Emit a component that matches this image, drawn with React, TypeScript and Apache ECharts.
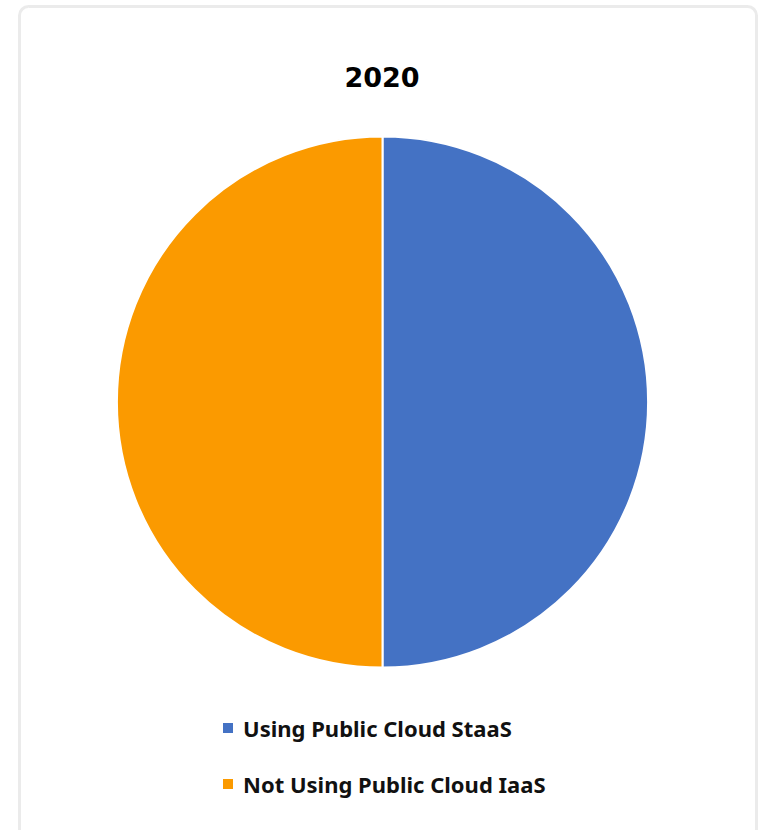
import React, { useEffect, useRef } from "react";
import * as echarts from "echarts";

const titleText = "2020";
const categories = ["Using Public Cloud StaaS", "Not Using Public Cloud IaaS"];
const values = [50, 50];
const colors = ["#4472C4", "#FB9A00"];

export default function App() {
  const ref = useRef<HTMLDivElement>(null);
  useEffect(() => {
    if (!ref.current) return;
    const chart = echarts.init(ref.current, null, { renderer: "svg" });
    chart.setOption({
      animation: false,
      backgroundColor: "#ffffff",
      title: {
        text: titleText,
        left: 377,
        textAlign: "center",
        top: 59,
        textStyle: {
          fontFamily: "DejaVu Sans",
          fontWeight: "bold",
          fontSize: 27,
          color: "#000000",
        },
      },
      graphic: [
        {
          type: "rect",
          shape: { x: 19.5, y: 6.5, width: 737, height: 900, r: 9 },
          style: { fill: "none", stroke: "#ebebeb", lineWidth: 3 },
          silent: true,
          z: -1,
        },
      ],
      legend: {
        orient: "vertical",
        left: 216,
        top: 712,
        itemWidth: 12,
        itemHeight: 12,
        itemGap: 34,
        icon: "rect",
        data: categories,
        textStyle: {
          fontFamily: "Noto Sans",
          fontWeight: "bold",
          fontSize: 22,
          lineHeight: 20,
          color: "#111111",
          padding: [0, 0, 0, 4],
        },
      },
      series: [
        {
          type: "pie",
          center: [382.5, 402],
          radius: 265.5,
          startAngle: 90,
          clockwise: true,
          label: { show: false },
          labelLine: { show: false },
          itemStyle: { borderColor: "#ffffff", borderWidth: 2 },
          data: categories.map((c, i) => ({
            name: c,
            value: values[i],
            itemStyle: { color: colors[i] },
          })),
        },
      ],
    });
    return () => chart.dispose();
  }, []);
  return (
    <div
      ref={ref}
      style={{ position: "fixed", left: 0, top: 0, width: 760, height: 830 }}
    />
  );
}
